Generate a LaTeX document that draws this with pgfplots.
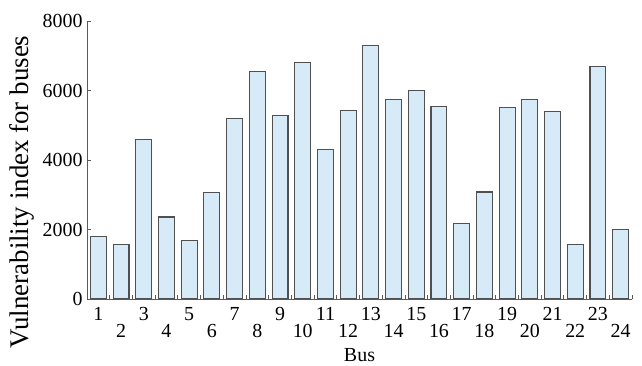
\documentclass[border=0pt]{standalone}
\usepackage{pgfplots}
\pgfplotsset{compat=1.18}
\usepackage{fontspec}
\setmainfont{Liberation Serif}
\definecolor{barfill}{RGB}{214,234,248}
\definecolor{baredge}{RGB}{80,80,80}
\definecolor{axisgray}{RGB}{90,90,90}
\begin{document}
\begin{tikzpicture}
\useasboundingbox (-87bp,-67bp) rectangle (555bp,299bp);
\begin{axis}[
  scale only axis,
  width=545bp, height=278bp,
  xmin=0.5, xmax=24.5, ymin=0, ymax=8000,
  axis x line*=bottom, axis y line*=left,
  axis line style={axisgray, line width=0.9pt, -},
  ytick={0,2000,4000,6000,8000},
  scaled y ticks=false,
  yticklabel style={/pgf/number format/1000 sep={}, font=\fontsize{20}{22}\selectfont},
  /pgf/number format/assume math mode=true,
  tick style={axisgray, line width=0.8pt},
  major tick length=4bp,
  minor tick length=4bp,
  tick align=inside,
  xtick={1,3,...,23},
  xticklabels={1,3,5,7,9,11,13,15,17,19,21,23},
  x tick style={draw=none},
  minor xtick={1.5,2.5,...,24.5},
  minor x tick style={draw=axisgray, line width=0.8pt},
  xticklabel style={font=\fontsize{20}{22}\selectfont, yshift=-5bp},
  extra x ticks={2,4,...,24},
  extra x tick labels={2,4,6,8,10,12,14,16,18,20,22,24},
  extra x tick style={x tick style={draw=none}, xticklabel style={yshift=-17bp}},
  xlabel={Bus},
  xlabel style={font=\fontsize{20}{22}\selectfont, yshift=-4bp},
  ylabel={Vulnerability index for buses},
  ylabel style={font=\fontsize{27}{29}\selectfont, yshift=1bp, xshift=-32bp},
  y tick label style={xshift=-1bp},
]
\addplot[ybar, bar width=0.7, fill=barfill, draw=baredge, line width=1.1pt] coordinates {
(1,1810) (2,1570) (3,4600) (4,2360) (5,1680) (6,3070)
(7,5200) (8,6550) (9,5270) (10,6800) (11,4300) (12,5430)
(13,7300) (14,5750) (15,6000) (16,5530) (17,2180) (18,3080)
(19,5500) (20,5750) (21,5400) (22,1560) (23,6700) (24,2000)
};
\end{axis}
\end{tikzpicture}
\end{document}
